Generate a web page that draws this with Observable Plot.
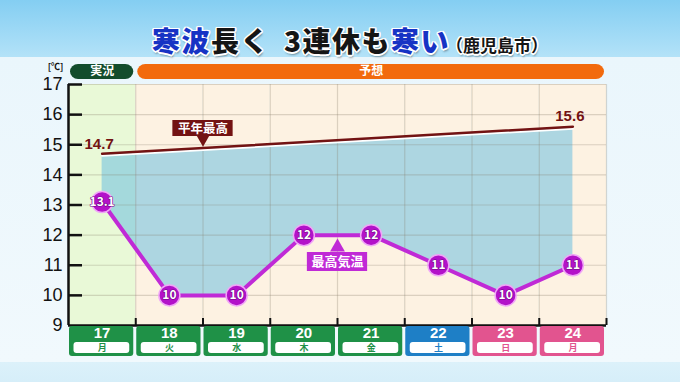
<!DOCTYPE html>
<html><head><meta charset="utf-8">
<script src="https://cdn.jsdelivr.net/npm/d3@7"></script>
<script src="https://cdn.jsdelivr.net/npm/@observablehq/plot@0.6"></script>
<style>
html,body{margin:0;padding:0;}
#wrap{position:relative;width:680px;height:382px;overflow:hidden;
 background:linear-gradient(to bottom,#84cef2 0px,#b3e2f8 57px,#eaf6fc 57px,#f1f9fd 362px,#dcf1fa 362px,#d6eef9 382px);
 font-family:"Noto Sans CJK JP",sans-serif;}
#title{position:absolute;left:10px;top:20px;width:680px;text-align:center;font-weight:900;font-size:28px;letter-spacing:1.5px;color:#151515;white-space:nowrap;
 text-shadow:1.5px 0 0 #fff,-1.5px 0 0 #fff,0 1.5px 0 #fff,0 -1.5px 0 #fff,1.2px 1.2px 0 #fff,-1.2px 1.2px 0 #fff,1.2px -1.2px 0 #fff,-1.2px -1.2px 0 #fff,1px 2.5px 2px rgba(0,0,0,.35);}
#title .b{color:#1733c4;}
#title .g{display:inline-block;width:14px;}
#title .s{font-size:17px;font-weight:700;letter-spacing:0;margin-left:-4px;}
#chart{position:absolute;left:0;top:0;}
</style></head>
<body>
<div id="wrap">
 <div id="title"><span class="b">寒波</span>長く<span class="g"></span>3連休も<span class="b">寒い</span><span class="s">（鹿児島市）</span></div>
 <div id="chart"></div>
</div>
<script>
const days = [17, 18, 19, 20, 21, 22, 23, 24];
const weekdays = ["月", "火", "水", "木", "金", "土", "日", "月"];
const maxTemp = [13.1, 10, 10, 12, 12, 11, 10, 11];
const maxLabels = ["13.1", "10", "10", "12", "12", "11", "10", "11"];
const dayColors = ["#1f9147", "#1f9147", "#1f9147", "#1f9147", "#1f9147", "#1e7fc6", "#e2548f", "#e2548f"];
const normalDays = [17, 24];
const normalHigh = [14.7, 15.6];
const yTicks = [9, 10, 11, 12, 13, 14, 15, 16, 17];
const headerLabels = ["実況", "予想"];
const normalLabel = "平年最高";
const maxLabel = "最高気温";
const unitLabel = "[℃]";

const normalAt = d3.scaleLinear().domain(normalDays).range(normalHigh);
const rows = days.map((d, i) => ({day: d, wd: weekdays[i], max: maxTemp[i], label: maxLabels[i], normal: normalAt(d), color: dayColors[i],
  bg: i === 0 ? "#e9f9d7" : "#fdf2e2"}));
const normRows = normalDays.map((d, i) => ({day: d, v: normalHigh[i]}));
const vBounds = days.slice(1).map(d => d - 0.5).concat([days[days.length - 1] + 0.5]);
const headers = [
  {x1: days[0] - 0.5, x2: days[0] + 0.5, text: headerLabels[0], fill: "#124c2c"},
  {x1: days[1] - 0.5, x2: days[days.length - 1] + 0.5, text: headerLabels[1], fill: "#f26a0d"}
];
const normLab = [{x1: 18, x2: 19, xc: 18.5, y: normalAt(18.5)}];
const maxLab = [{x1: 20, x2: 21, xc: 20.5, y: 12}];
const purple = "#c02ad6";
const maroon = "#731313";
const mid = {lineAnchor: "middle"};
const latin = "'Liberation Sans', Arial, sans-serif";

const chart = Plot.plot({
  width: 680, height: 382,
  marginLeft: 68, marginRight: 74, marginTop: 84, marginBottom: 57,
  x: {type: "linear", domain: [16.5, 24.5], axis: null},
  y: {domain: [9, 17], axis: null},
  color: {type: "identity"},
  style: {background: "transparent", fontFamily: "'Noto Sans CJK JP', sans-serif", overflow: "visible"},
  marks: [
    Plot.rect(rows, {x1: d => d.day - 0.5, x2: d => d.day + 0.5, fill: "bg"}),
    Plot.areaY(rows, {x: "day", y1: "max", y2: "normal", fill: "#6cc0e0", fillOpacity: 0.55}),
    Plot.ruleY(yTicks.slice(1), {stroke: "#857a66", strokeOpacity: 0.28, strokeWidth: 1.2}),
    Plot.ruleX(vBounds, {stroke: "#857a66", strokeOpacity: 0.28, strokeWidth: 1.2}),
    // header bars
    Plot.rect(headers, {x1: "x1", x2: "x2", insetLeft: 2, insetRight: 2, insetTop: -20, insetBottom: 246, fill: "fill", rx: 8}),
    Plot.text(headers, {...mid, x: d => (d.x1 + d.x2) / 2, frameAnchor: "top", dy: -13, text: "text", fill: "white", fontSize: 12, fontWeight: "bold", letterSpacing: "5px"}),
    // axes
    Plot.ruleX([16.5], {stroke: "#111", strokeWidth: 2.5}),
    Plot.ruleY([9], {stroke: "#111", strokeWidth: 2.5}),
    Plot.tickY(yTicks.slice(1), {y: d => d, insetRight: 524, stroke: "#111", strokeWidth: 2.5}),
    Plot.tickX(vBounds, {x: d => d, insetTop: 234, stroke: "#111", strokeWidth: 2}),
    Plot.text(yTicks, {y: d => d, frameAnchor: "left", dx: -6, textAnchor: "end", text: d => String(d), fontSize: 18, fill: "#111", fontFamily: latin}),
    Plot.text([unitLabel], {...mid, frameAnchor: "top-left", dx: -5, dy: -17, textAnchor: "end", text: d => d, fontSize: 9, fontWeight: "bold", fill: "#111"}),
    // normal high line
    Plot.line(normRows, {x: "day", y: "v", stroke: "white", strokeWidth: 2, dy: 2}),
    Plot.line(normRows, {x: "day", y: "v", stroke: maroon, strokeWidth: 2.5}),
    Plot.text(normRows, {x: "day", y: "v", text: d => d.v.toFixed(1), dy: -10, dx: -3, fill: maroon, fontSize: 15, fontFamily: latin, fontWeight: "bold"}),
    Plot.rect(normLab, {x1: "x1", x2: "x2", insetLeft: 3.5, insetRight: 3.5, insetTop: 36, insetBottom: 189, fill: maroon}),
    Plot.dot(normLab, {x: "xc", y: "y", symbol: "triangle", r: 5, rotate: 180, fill: maroon, dy: -9}),
    Plot.text(normLab, {...mid, x: "xc", frameAnchor: "top", dy: 44, text: () => normalLabel, fill: "white", fontSize: 12.5, fontWeight: "bold"}),
    // max temperature
    Plot.line(rows, {x: "day", y: "max", stroke: purple, strokeWidth: 4}),
    Plot.rect(maxLab, {x1: "x1", x2: "x2", insetLeft: 3.5, insetRight: 3.5, insetTop: 168, insetBottom: 54, fill: purple}),
    Plot.dot(maxLab, {x: "xc", y: "y", symbol: "triangle", r: 5.5, fill: purple, dy: 12}),
    Plot.text(maxLab, {...mid, x: "xc", frameAnchor: "top", dy: 177.5, text: () => maxLabel, fill: "white", fontSize: 13, fontWeight: "bold"}),
    Plot.dot(rows, {x: "day", y: "max", r: 10.5, fill: "#b312c9", stroke: "#f0a6f7", strokeWidth: 1.5}),
    Plot.text(rows, {x: "day", y: "max", text: "label", fill: "white", fontSize: 12, fontWeight: "bold", letterSpacing: "-0.6px", stroke: "#6d0580", strokeWidth: 1.2, paintOrder: "stroke"}),
    // day boxes
    Plot.rect(rows, {x1: d => d.day - 0.5, x2: d => d.day + 0.5, insetLeft: 1, insetRight: 2, insetTop: 242, insetBottom: -31, fill: "color", rx: 3}),
    Plot.rect(rows, {x1: d => d.day - 0.5, x2: d => d.day + 0.5, insetLeft: 5.5, insetRight: 6, insetTop: 258, insetBottom: -28, fill: "white", rx: 3}),
    Plot.text(rows, {...mid, x: "day", frameAnchor: "bottom", dy: 8, text: d => String(d.day), fill: "white", fontSize: 15, fontFamily: latin, fontWeight: "bold", letterSpacing: "1.5px"}),
    Plot.text(rows, {...mid, x: "day", frameAnchor: "bottom", dy: 23, text: "wd", fill: "color", fontSize: 9, fontWeight: "bold"})
  ]
});
document.getElementById("chart").appendChild(chart);
</script>
</body></html>
